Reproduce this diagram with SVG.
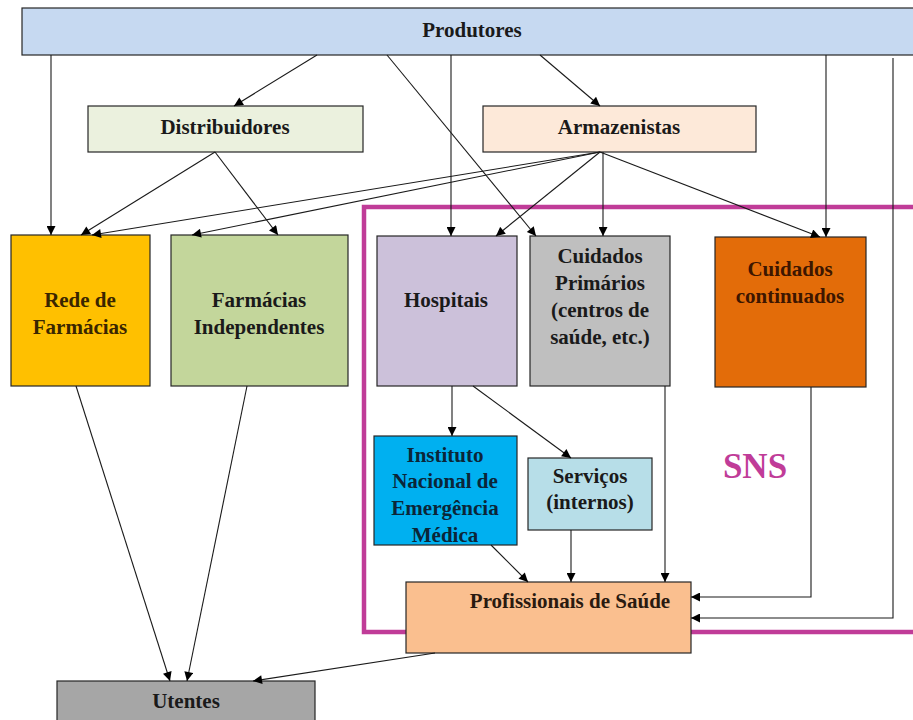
<svg xmlns="http://www.w3.org/2000/svg" width="913" height="720" viewBox="0 0 913 720">
<defs>
<marker id="ah" viewBox="0 0 10 10" refX="10" refY="5" markerWidth="11" markerHeight="9" markerUnits="userSpaceOnUse" orient="auto">
<path d="M0,0 L10,5 L0,10 Z" fill="#000"/>
</marker>
</defs>
<style>
.box{stroke:#262626;stroke-width:1.2}
.t{font-family:"Liberation Serif","Times New Roman",serif;font-weight:bold;font-size:21px;text-anchor:middle;fill:#1a1a1a}
.c{fill:none;stroke:#1a1a1a;stroke-width:1.1;marker-end:url(#ah)}
.p{fill:none;stroke:#1a1a1a;stroke-width:1.1}
</style>
<rect width="913" height="720" fill="#fff"/>
<g id="sns">
<rect x="364" y="207" width="560" height="425" fill="none" stroke="#c03c98" stroke-width="4.5"/>
<text x="755" y="478" class="t" style="font-size:35px;fill:#c03c98">SNS</text>
</g>
<g id="produtores"><rect class="box" x="22" y="8" width="900" height="47" fill="#c6d9f1"/><text class="t" x="472" y="37">Produtores</text></g>
<g id="distribuidores"><rect class="box" x="88" y="106" width="275" height="46" fill="#ebf1de"/><text class="t" x="225" y="134">Distribuidores</text></g>
<g id="armazenistas"><rect class="box" x="483" y="106" width="273" height="46" fill="#fde9d9"/><text class="t" x="619" y="134">Armazenistas</text></g>
<g id="rede"><rect class="box" x="11" y="235" width="139" height="151" fill="#ffc000"/><text class="t" x="80" y="307" style="fill:#3a2600">Rede de</text><text class="t" x="80" y="334" style="fill:#3a2600">Farmácias</text></g>
<g id="independentes"><rect class="box" x="171" y="235" width="177" height="151" fill="#c3d69b"/><text class="t" x="259" y="307">Farmácias</text><text class="t" x="259" y="334">Independentes</text></g>
<g id="hospitais"><rect class="box" x="377" y="236" width="140" height="150" fill="#ccc1da"/><text class="t" x="446" y="307">Hospitais</text></g>
<g id="primarios"><rect class="box" x="530" y="236" width="140" height="150" fill="#bfbfbf"/><text class="t" x="600" y="263">Cuidados</text><text class="t" x="600" y="290">Primários</text><text class="t" x="600" y="317">(centros de</text><text class="t" x="600" y="344">saúde, etc.)</text></g>
<g id="continuados"><rect class="box" x="715" y="237" width="151" height="150" fill="#e36c09"/><text class="t" x="790" y="276" style="fill:#3d1600">Cuidados</text><text class="t" x="790" y="303" style="fill:#3d1600">continuados</text></g>
<g id="inem"><rect class="box" x="374" y="436" width="143" height="109" fill="#00b0f0"/><text class="t" x="445" y="462" style="fill:#0b2638">Instituto</text><text class="t" x="445" y="488" style="fill:#0b2638">Nacional de</text><text class="t" x="445" y="515" style="fill:#0b2638">Emergência</text><text class="t" x="445" y="542" style="fill:#0b2638">Médica</text></g>
<g id="servicos"><rect class="box" x="528" y="458" width="124" height="72" fill="#b7dee8"/><text class="t" x="590" y="483">Serviços</text><text class="t" x="590" y="509">(internos)</text></g>
<g id="profissionais"><rect class="box" x="406" y="582" width="285" height="71" fill="#fabf8f"/><text class="t" x="570" y="608" style="fill:#2a1a10">Profissionais de Saúde</text></g>
<g id="utentes"><rect class="box" x="57" y="681" width="258" height="50" fill="#a6a6a6"/><text class="t" x="186" y="708">Utentes</text></g>
<g id="connectors">
<line class="c" x1="51" y1="55" x2="51" y2="235"/>
<line class="c" x1="317" y1="55" x2="234" y2="106"/>
<line class="c" x1="387" y1="55" x2="536" y2="236"/>
<line class="c" x1="451" y1="55" x2="451" y2="236"/>
<line class="c" x1="540" y1="55" x2="600" y2="106"/>
<line class="c" x1="826" y1="55" x2="826" y2="237"/>
<line class="c" x1="215" y1="152" x2="81" y2="235"/>
<line class="c" x1="215" y1="152" x2="278" y2="235"/>
<line class="c" x1="600" y1="152" x2="92" y2="235"/>
<line class="c" x1="600" y1="152" x2="192" y2="235"/>
<line class="c" x1="600" y1="152" x2="496" y2="236"/>
<line class="c" x1="603" y1="152" x2="603" y2="236"/>
<line class="c" x1="600" y1="152" x2="820" y2="237"/>
<line class="c" x1="452" y1="386" x2="452" y2="436"/>
<line class="c" x1="473" y1="386" x2="571" y2="458"/>
<line class="c" x1="571" y1="530" x2="571" y2="582"/>
<line class="c" x1="491" y1="545" x2="528" y2="582"/>
<line class="c" x1="665" y1="386" x2="665" y2="582"/>
<polyline class="c" points="811,387 811,597 691,597"/>
<polyline class="c" points="893,58 893,618 691,618"/>
<line class="c" x1="76" y1="386" x2="170" y2="681"/>
<line class="c" x1="247" y1="386" x2="187" y2="681"/>
<line class="c" x1="435" y1="653" x2="253" y2="681"/>
</g>
</svg>
